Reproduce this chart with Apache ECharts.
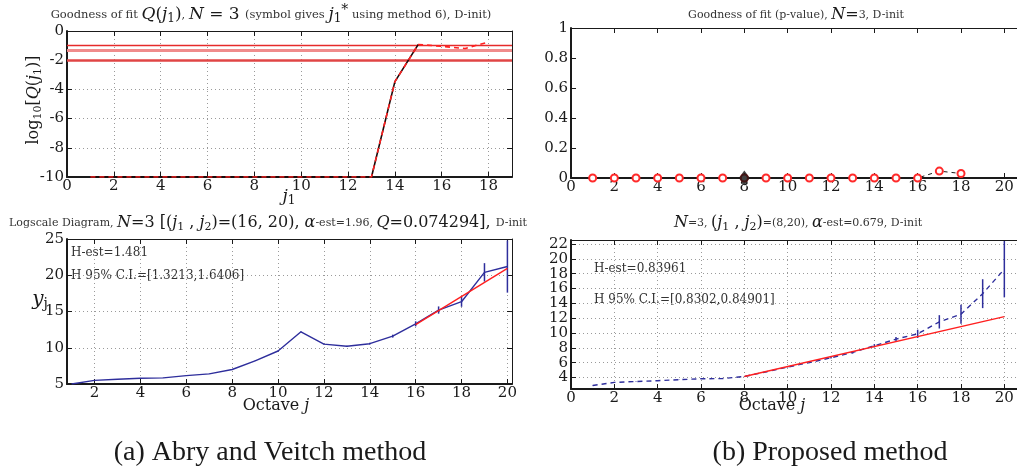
<!DOCTYPE html>
<html>
<head>
<meta charset="utf-8">
<script src="https://cdn.jsdelivr.net/npm/echarts@6/dist/echarts.min.js"></script>
<style>
  html, body { margin: 0; padding: 0; background: #fff; }
  #fig { width: 1017px; height: 470px; }
</style>
</head>
<body>
<div id="fig"></div>
<script>
// ---- panel (a) top : goodness of fit log10 Q(j1)
const qJ1 = [1, 2, 3, 4, 5, 6, 7, 8, 9, 10, 11, 12, 13, 14, 15, 16, 17, 18];
const qLog = [-10, -10, -10, -10, -10, -10, -10, -10, -10, -10, -10, -10, -10, -3.47, -0.92, -1.05, -1.2, -0.75];
const qBlackUpTo = 15;
const qThresholds = [-1, -1.30103, -2];   // log10 of 0.1, 0.05, 0.01

// ---- panel (b) top : goodness of fit p-value
const pJ1 = [1, 2, 3, 4, 5, 6, 7, 8, 9, 10, 11, 12, 13, 14, 15, 16, 17, 18];
const pVal = [0, 0, 0, 0, 0, 0, 0, 0, 0, 0, 0, 0, 0, 0, 0, 0, 0.046, 0.03];
const pStar = [8, 0];

// ---- panel (a) bottom : logscale diagram, Abry & Veitch
const avOct = [1, 2, 3, 4, 5, 6, 7, 8, 9, 10, 11, 12, 13, 14, 15, 16, 17, 18, 19, 20];
const avY = [5.0, 5.5, 5.65, 5.8, 5.85, 6.15, 6.4, 7.0, 8.2, 9.55, 12.2, 10.5, 10.2, 10.56, 11.6, 13.3, 15.2, 16.35, 20.4, 21.2];
const avErr = [0.02, 0.02, 0.02, 0.02, 0.02, 0.03, 0.03, 0.03, 0.04, 0.05, 0.05, 0.06, 0.08, 0.12, 0.2, 0.35, 0.5, 0.7, 1.27, 3.6];
const avFitJ = [16, 20];
const avFitY = [13.2, 20.95];
const avHest = '1.481';
const avCI = ['1.3213', '1.6406'];

// ---- panel (b) bottom : logscale diagram, proposed
const pmOct = [1, 2, 3, 4, 5, 6, 7, 8, 9, 10, 11, 12, 13, 14, 15, 16, 17, 18, 19, 20];
const pmY = [2.92, 3.33, 3.45, 3.56, 3.7, 3.82, 3.85, 4.13, 4.75, 5.4, 6.0, 6.65, 7.37, 8.27, 9.17, 9.88, 11.5, 12.53, 15.3, 18.6];
const pmErr = [0.02, 0.02, 0.02, 0.02, 0.02, 0.03, 0.03, 0.03, 0.04, 0.05, 0.06, 0.1, 0.15, 0.22, 0.3, 0.56, 0.9, 1.28, 1.95, 3.8];
const pmFitJ = [8, 20];
const pmFitY = [4.13, 12.2];
const pmHest = '0.83961';
const pmCI = ['0.8302', '0.84901'];

// tick labels
const evenTo18 = [0, 2, 4, 6, 8, 10, 12, 14, 16, 18];
const evenTo20 = [0, 2, 4, 6, 8, 10, 12, 14, 16, 18, 20];
const evenFrom2 = [2, 4, 6, 8, 10, 12, 14, 16, 18, 20];
const qTicksY = [-10, -8, -6, -4, -2, 0];
const pTicksY = [0, 0.2, 0.4, 0.6, 0.8, 1];
const avTicksY = [5, 10, 15, 20, 25];
const pmTicksY = [4, 6, 8, 10, 12, 14, 16, 18, 20, 22];

const ink = '#1a1a1a';
const serif = 'DejaVu Serif';
const blue = '#2e2e9c';
const red = '#ff1f1f';

let chart;

function rich(big, small) {
  const m = big || 16;
  const s = small || 11;
  return {
    t: { fontFamily: serif, fontSize: s, fill: '#333', color: '#333' },
    m: { fontFamily: serif, fontStyle: 'italic', fontSize: m, fill: ink, color: ink },
    r: { fontFamily: serif, fontSize: m, fill: ink, color: ink },
    b: { fontFamily: serif, fontSize: Math.round(m * 0.68), fill: ink, color: ink, padding: [8, 0, 0, 0] },
    p: { fontFamily: serif, fontSize: Math.round(m * 0.8), fill: ink, color: ink, padding: [0, 0, 9, 0] }
  };
}

function txt(x, y, text, opts) {
  opts = opts || {};
  return {
    type: 'text', x: x, y: y, rotation: opts.rotation || 0, silent: true,
    style: {
      text: text, rich: rich(opts.big, opts.small), fill: opts.fill || ink,
      font: opts.font || ('10px ' + serif),
      align: opts.align || 'center', verticalAlign: 'middle'
    }
  };
}

function axes(gi, x, y, grid) {
  const tick = { show: true, inside: true, length: 5, lineStyle: { color: ink, width: 1 } };
  const lab = { fontFamily: serif, fontSize: 15, color: ink };
  const split = { show: grid, lineStyle: { type: [1, 3], color: '#9a9a9a', width: 1 } };
  return {
    x: [
      { type: 'value', gridIndex: gi, position: 'bottom', min: x.min, max: x.max,
        axisLine: { show: true, onZero: false, lineStyle: { color: ink, width: 2 } },
        axisTick: Object.assign({ customValues: x.ticks }, tick),
        axisLabel: Object.assign({ customValues: x.ticks, margin: 2 }, lab),
        splitLine: split },
      { type: 'value', gridIndex: gi, position: 'top', min: x.min, max: x.max,
        axisLine: { show: true, onZero: false, lineStyle: { color: ink, width: 1 } },
        axisTick: Object.assign({ customValues: x.ticks }, tick),
        axisLabel: { show: false }, splitLine: { show: false } }
    ],
    y: [
      { type: 'value', gridIndex: gi, position: 'left', min: y.min, max: y.max,
        axisLine: { show: true, onZero: false, lineStyle: { color: ink, width: 2 } },
        axisTick: Object.assign({ customValues: y.ticks }, tick),
        axisLabel: Object.assign({ customValues: y.ticks, margin: 3 }, lab),
        splitLine: split },
      { type: 'value', gridIndex: gi, position: 'right', min: y.min, max: y.max,
        axisLine: { show: true, onZero: false, lineStyle: { color: ink, width: 1 } },
        axisTick: Object.assign({ customValues: y.ticks }, tick),
        axisLabel: { show: false }, splitLine: { show: false } }
    ]
  };
}

function pairs(xs, ys) {
  return xs.map((v, i) => [v, ys[i]]);
}

function errorBars(ai, xs, ys, errs) {
  return {
    type: 'custom', xAxisIndex: ai, yAxisIndex: ai, clip: true, z: 3,
    data: xs.map((v, i) => [v, ys[i] - errs[i], ys[i] + errs[i]]),
    renderItem: function (params, api) {
      const lo = api.coord([api.value(0), api.value(1)]);
      const hi = api.coord([api.value(0), api.value(2)]);
      return { type: 'line', shape: { x1: lo[0], y1: lo[1], x2: hi[0], y2: hi[1] },
               style: { stroke: blue, lineWidth: 1.5 } };
    }
  };
}

function init() {
  chart = echarts.init(document.getElementById('fig'), null, { renderer: 'canvas' });

  const a0 = axes(0, { min: 0, max: 19, ticks: evenTo18 }, { min: -10, max: 0, ticks: qTicksY }, true);
  const a1 = axes(1, { min: 0, max: 21, ticks: evenTo20 }, { min: 0, max: 1, ticks: pTicksY }, false);
  const a2 = axes(2, { min: 0.8, max: 20.2, ticks: evenFrom2 }, { min: 5, max: 25, ticks: avTicksY }, true);
  const a3 = axes(3, { min: 0, max: 21, ticks: evenTo20 }, { min: 2.44, max: 22.54, ticks: pmTicksY }, true);

  // axis index of the bottom/left axis of each panel
  const ax = [0, 2, 4, 6];

  const option = {
    animation: false,
    backgroundColor: '#fff',
    grid: [
      { left: 67, top: 31, width: 445, height: 146, outerBoundsMode: 'none' },
      { left: 571, top: 28, width: 455, height: 150, outerBoundsMode: 'none' },
      { left: 67, top: 239, width: 445, height: 145, outerBoundsMode: 'none' },
      { left: 571, top: 240, width: 455, height: 149, outerBoundsMode: 'none' }
    ],
    xAxis: [].concat(a0.x, a1.x, a2.x, a3.x),
    yAxis: [].concat(a0.y, a1.y, a2.y, a3.y),
    series: [
      // (a) top
      { type: 'line', xAxisIndex: ax[0], yAxisIndex: ax[0], showSymbol: false, z: 3,
        data: pairs(qJ1, qLog).filter(d => d[0] <= qBlackUpTo),
        lineStyle: { color: '#1a0808', width: 1.6 },
        markLine: { silent: true, symbol: 'none', label: { show: false }, z: 1,
          data: qThresholds.map((v, i) => ({
            yAxis: v,
            lineStyle: [
              { color: '#e62a2a', width: 1.4, type: 'solid' },
              { color: '#f08c8c', width: 3, type: 'solid' },
              { color: '#e04545', width: 2.6, type: 'solid' }
            ][i]
          })) } },
      { type: 'line', xAxisIndex: ax[0], yAxisIndex: ax[0], showSymbol: false, z: 4,
        data: pairs(qJ1, qLog),
        lineStyle: { color: red, width: 1.6, type: [5, 4] } },

      // (b) top
      { type: 'line', xAxisIndex: ax[1], yAxisIndex: ax[1], z: 3,
        data: pairs(pJ1, pVal), symbol: 'emptyCircle', symbolSize: 7,
        itemStyle: { color: '#ff2a2a', borderWidth: 1.3 },
        lineStyle: { color: ink, width: 1, type: [4, 4] } },
      { type: 'scatter', xAxisIndex: ax[1], yAxisIndex: ax[1], z: 5,
        data: [pStar], symbol: 'diamond', symbolSize: [11, 15],
        itemStyle: { color: '#111' } },

      // (a) bottom
      { type: 'line', xAxisIndex: ax[2], yAxisIndex: ax[2], showSymbol: false, z: 3,
        data: pairs(avOct, avY), lineStyle: { color: blue, width: 1.4 } },
      errorBars(ax[2], avOct, avY, avErr),
      { type: 'line', xAxisIndex: ax[2], yAxisIndex: ax[2], showSymbol: false, z: 4,
        data: pairs(avFitJ, avFitY), lineStyle: { color: red, width: 1.4 } },

      // (b) bottom
      { type: 'line', xAxisIndex: ax[3], yAxisIndex: ax[3], showSymbol: false, z: 3,
        data: pairs(pmOct, pmY), lineStyle: { color: blue, width: 1.4, type: [5, 4] } },
      errorBars(ax[3], pmOct, pmY, pmErr),
      { type: 'line', xAxisIndex: ax[3], yAxisIndex: ax[3], showSymbol: false, z: 4,
        data: pairs(pmFitJ, pmFitY), lineStyle: { color: red, width: 1.4 } }
    ],
    graphic: [
      // titles
      txt(271, 15, '{t|Goodness of fit }{m|Q}{r|(}{m|j}{b|1}{r|)}{t|, }{m|N}{r| = 3 }{t|(symbol gives }{m|j}{b|1}{p|*}{t| using method 6), D-init)}', { big: 17, small: 11.5 }),
      txt(796, 15, '{t|Goodness of fit (p-value), }{m|N}{r|=}{t|3, D-init}', { big: 16, small: 11 }),
      txt(268, 223, '{t|Logscale Diagram, }{m|N}{r|=3 [(}{m|j}{b|1}{r| , }{m|j}{b|2}{r|)=(16, 20), }{m|α}{t|-est=1.96, }{m|Q}{r|=0.074294], }{t|D-init}', { big: 16, small: 11 }),
      txt(798, 223, '{m|N}{t|=3, }{r|(}{m|j}{b|1}{r| , }{m|j}{b|2}{r|)}{t|=(8,20), }{m|α}{t|-est=0.679, D-init}', { big: 16, small: 11 }),
      // axis names
      txt(34, 100, '{r|log}{b|10}{r|[}{m|Q}{r|(}{m|j}{b|1}{r|)]}', { rotation: Math.PI / 2, big: 16 }),
      txt(289, 197, '{m|j}{b|1}', { big: 17 }),
      txt(40, 300, '{m|y}{b|j}', { big: 20 }),
      txt(276, 406, '{r|Octave }{m|j}', { big: 16 }),
      txt(772, 406, '{r|Octave }{m|j}', { big: 16 }),
      // estimates
      txt(71, 253, 'H-est=' + avHest, { align: 'left', font: '12px ' + serif, fill: '#333' }),
      txt(71, 276, 'H 95% C.I.=[' + avCI[0] + ',' + avCI[1] + ']', { align: 'left', font: '12px ' + serif, fill: '#333' }),
      txt(594, 269, 'H-est=' + pmHest, { align: 'left', font: '12px ' + serif, fill: '#333' }),
      txt(594, 300, 'H 95% C.I.=[' + pmCI[0] + ',' + pmCI[1] + ']', { align: 'left', font: '12px ' + serif, fill: '#333' }),
      // captions
      txt(270, 453, '(a) Abry and Veitch method', { font: '28px Liberation Serif' }),
      txt(830, 453, '(b) Proposed method', { font: '28px Liberation Serif' })
    ]
  };

  chart.setOption(option);
}

window.onload = init;
</script>
</body>
</html>
